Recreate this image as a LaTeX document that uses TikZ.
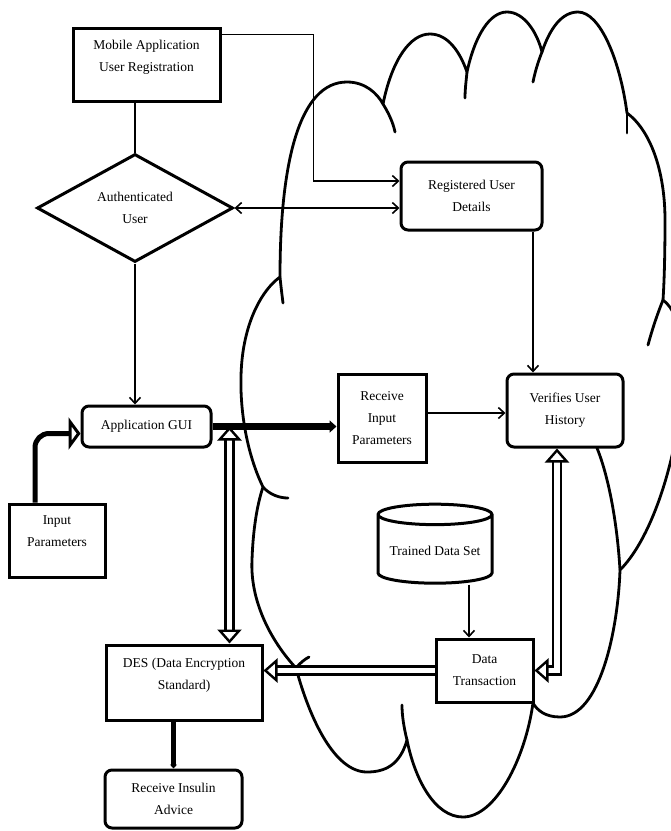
\documentclass[tikz,border=0pt]{standalone}
\usepackage{fontspec}
\setmainfont{Liberation Serif}
\usetikzlibrary{shapes.geometric,arrows.meta}

\tikzset{
  box/.style={draw, line width=3pt, fill=white, align=center, inner sep=1pt,
    font=\fontsize{13.5}{22}\selectfont},
  rbox/.style={box, rounded corners=7pt},
  barb/.tip={Straight Barb[length=6pt,width=11pt,line width=1.6pt]},
  pipetip/.tip={Triangle[open,length=14pt,width=24pt,line width=2.4pt]},
  flow/.style={line width=1.6pt, -barb},
  pipe/.style={double, double distance=5.5pt, line width=2.5pt},
  cloudline/.style={line width=2.8pt, line cap=round, line join=round}
}

\begin{document}
\begin{tikzpicture}[x=1pt,y=-1pt]
\useasboundingbox (0,0) rectangle (671,831);

% cloud
\begin{scope}
\clip (0,0) rectangle (671,831);
\draw[cloudline]
  (280,277) .. controls (280,160) and (300,82) .. (347,82)
  .. controls (365,82) and (377,93) .. (383,104)
  .. controls (392,60) and (410,34) .. (430,34)
  .. controls (448,34) and (460,52) .. (467,72)
  .. controls (475,35) and (490,12) .. (507,12)
  .. controls (524,12) and (537,32) .. (542,52)
  .. controls (550,28) and (562,12) .. (578,12)
  .. controls (600,12) and (620,60) .. (627,113)
  .. controls (650,130) and (665,170) .. (665,220)
  .. controls (665,260) and (664,285) .. (663,300)
  .. controls (705,330) and (675,515) .. (620,570)
  .. controls (618,630) and (600,717) .. (560,717)
  .. controls (545,717) and (537,710) .. (533,703)
  .. controls (525,760) and (495,817) .. (463,817)
  .. controls (435,817) and (415,780) .. (407,740)
  .. controls (400,765) and (385,772) .. (367,772)
  .. controls (335,772) and (310,720) .. (296,668)
  .. controls (270,640) and (250,600) .. (252,560)
  .. controls (253,530) and (257,505) .. (263,487)
  .. controls (245,450) and (238,400) .. (242,360)
  .. controls (246,320) and (262,290) .. (280,277);
\draw[cloudline] (280,277) .. controls (281,287) and (282,295) .. (283,303);
\draw[cloudline] (383,104) .. controls (388,112) and (393,122) .. (395,132);
\draw[cloudline] (467,72) .. controls (466,82) and (465,90) .. (465,98);
\draw[cloudline] (542,52) .. controls (538,62) and (535,72) .. (533,82);
\draw[cloudline] (627,113) .. controls (627,120) and (627,127) .. (627,133);
\draw[cloudline] (663,300) .. controls (657,315) and (652,330) .. (648,345);
\draw[cloudline] (620,570) .. controls (617,520) and (608,475) .. (597,448);
\draw[cloudline] (407,740) .. controls (404,728) and (402,716) .. (402,705);
\draw[cloudline] (296,668) .. controls (300,663) and (305,659) .. (309,657);
\draw[cloudline] (263,487) .. controls (270,495) and (280,498) .. (288,498);
\end{scope}

% nodes
\node[box, minimum width=147pt, minimum height=73pt] (mob) at (146.5,64.5)
  {Mobile Application\\User Registration\\[-4pt]{}};
\node[box, diamond, minimum width=196pt, minimum height=108pt, inner sep=0pt] (auth) at (135,208)
  {Authenticated\\User};
\node[rbox, minimum width=141pt, minimum height=68pt] (reg) at (471.5,196)
  {Registered User\\Details};
\node[rbox, minimum width=129pt, minimum height=41pt] (gui) at (146.5,426.5)
  {Application GUI};
\node[box, minimum width=96pt, minimum height=73pt] (inp) at (57,540.5)
  {Input\\Parameters\\[-4pt]{}};
\node[box, minimum width=88pt, minimum height=88pt] (recv) at (382,418)
  {Receive\\Input\\Parameters};
\node[rbox, minimum width=116pt, minimum height=73pt] (verif) at (565,410.5)
  {Verifies User\\History};
\node[box, cylinder, shape border rotate=90, aspect=0.22, minimum width=114pt,
  minimum height=79pt] (cyl) at (435,550.5) {Trained Data Set};
\node[box, minimum width=97pt, minimum height=63pt] (dt) at (484.5,670.5)
  {Data\\Transaction};
\node[box, minimum width=156pt, minimum height=75pt] (des) at (184,682.5)
  {DES (Data Encryption\\Standard)\\[-4pt]{}};
\node[rbox, minimum width=137pt, minimum height=58pt] (ins) at (173.5,799)
  {Receive Insulin\\Advice};

% connectors
\draw[line width=1.6pt] (auth.north |- mob.south) -- (auth.north);
\draw[flow] ([yshift=30pt]mob.east) -- ++(92,0) |- ([yshift=15pt]reg.west);
\draw[flow, barb-barb] (auth.east) -- (auth.east -| reg.west);
\draw[flow] ([xshift=61.5pt]reg.south) -- ([xshift=61.5pt]reg.south |- verif.north);
\draw[flow] (auth.south) -- (auth.south |- gui.north);
\draw[line width=5pt, rounded corners=14pt, -{Triangle[open,length=12pt,width=32pt,line width=3pt]}]
  ([xshift=-22pt]inp.north) |- ([yshift=-7pt]gui.west);
\draw[line width=6.5pt, -{Triangle[length=7pt,width=12pt]}] (gui.east) -- (gui.east -| recv.west);
\draw[flow] ([yshift=5pt]recv.east) -- ([yshift=5pt]recv.east -| verif.west);
\draw[pipe, pipetip-pipetip] ([xshift=17pt]gui.east) -- ([xshift=17pt]gui.east |- des.north);
\draw[pipe, pipetip-pipetip] ([xshift=-8pt]verif.south) |- (dt.east);
\draw[pipe, -pipetip] (dt.west) -- (dt.west -| des.east);
\draw[flow] ([xshift=34pt]cyl.south) -- ([xshift=34pt]cyl.south |- dt.north);
\draw[line width=4.5pt, -{Triangle[length=4pt,width=7pt]}] (ins.north |- des.south) -- (ins.north);
\end{tikzpicture}
\end{document}
